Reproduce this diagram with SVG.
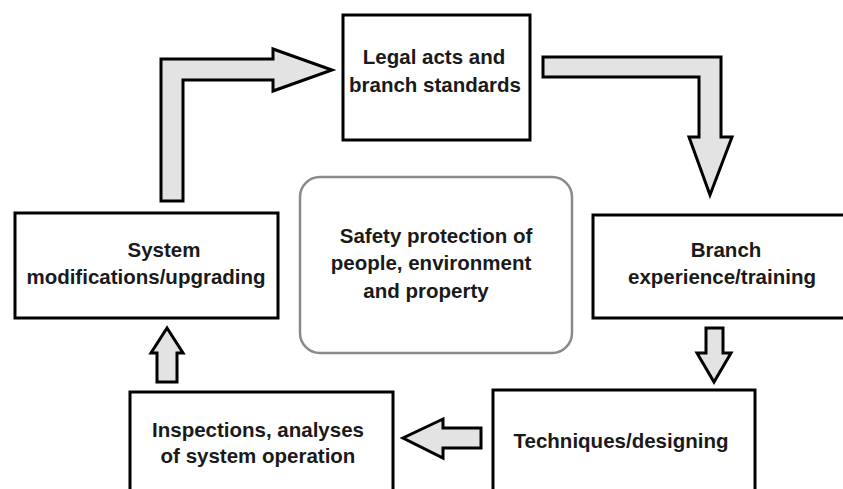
<svg xmlns="http://www.w3.org/2000/svg" width="843" height="489" viewBox="0 0 843 489">
<style>
.box{fill:#fff;stroke:#000;stroke-width:3}
.center{fill:#fff;stroke:#8a8a8a;stroke-width:2.5}
.arrow{fill:#e3e3e3;stroke:#000;stroke-width:3;stroke-linejoin:miter}
text{font-family:"Liberation Sans",Arial,sans-serif;font-weight:bold;font-size:20.5px;fill:#1a1a1a;text-anchor:middle}
</style>
<rect width="843" height="489" fill="#fff"/>
<g id="connectors">
<path class="arrow" d="M161,201 L161,59 L273,59 L273,49 L332,70 L273,91 L273,80 L183,80 L183,201 Z"/>
<path class="arrow" d="M543,57 L721,57 L721,137 L732,137 L710,195 L689,137 L699,137 L699,77 L543,77 Z"/>
<path class="arrow" d="M706,328 L723,328 L723,353 L731,353 L714,382 L697,353 L706,353 Z"/>
<path class="arrow" d="M481,428 L481,448 L443,448 L443,458 L403,438 L443,419 L443,428 Z"/>
<path class="arrow" d="M157,382 L157,353 L151,353 L167,328 L183,353 L177,353 L177,382 Z"/>
</g>
<g id="legal">
<rect class="box" x="343" y="15" width="187" height="125"/>
<text x="434" y="64">Legal acts and</text>
<text x="435" y="92">branch standards</text>
</g>
<g id="safety">
<rect class="center" x="300" y="177" width="272" height="176" rx="20"/>
<text x="436" y="243">Safety protection of</text>
<text x="431" y="270">people, environment</text>
<text x="426" y="298">and property</text>
</g>
<g id="branch">
<rect class="box" x="593" y="215" width="270" height="103"/>
<text x="726" y="257">Branch</text>
<text x="722" y="284">experience/training</text>
</g>
<g id="system">
<rect class="box" x="15" y="213" width="263" height="105"/>
<text x="164" y="257">System</text>
<text x="146" y="284">modifications/upgrading</text>
</g>
<g id="techniques">
<rect class="box" x="493" y="390" width="262" height="120"/>
<text x="621" y="448">Techniques/designing</text>
</g>
<g id="inspections">
<rect class="box" x="130" y="392" width="263" height="120"/>
<text x="258" y="437">Inspections, analyses</text>
<text x="258" y="463">of system operation</text>
</g>
</svg>
